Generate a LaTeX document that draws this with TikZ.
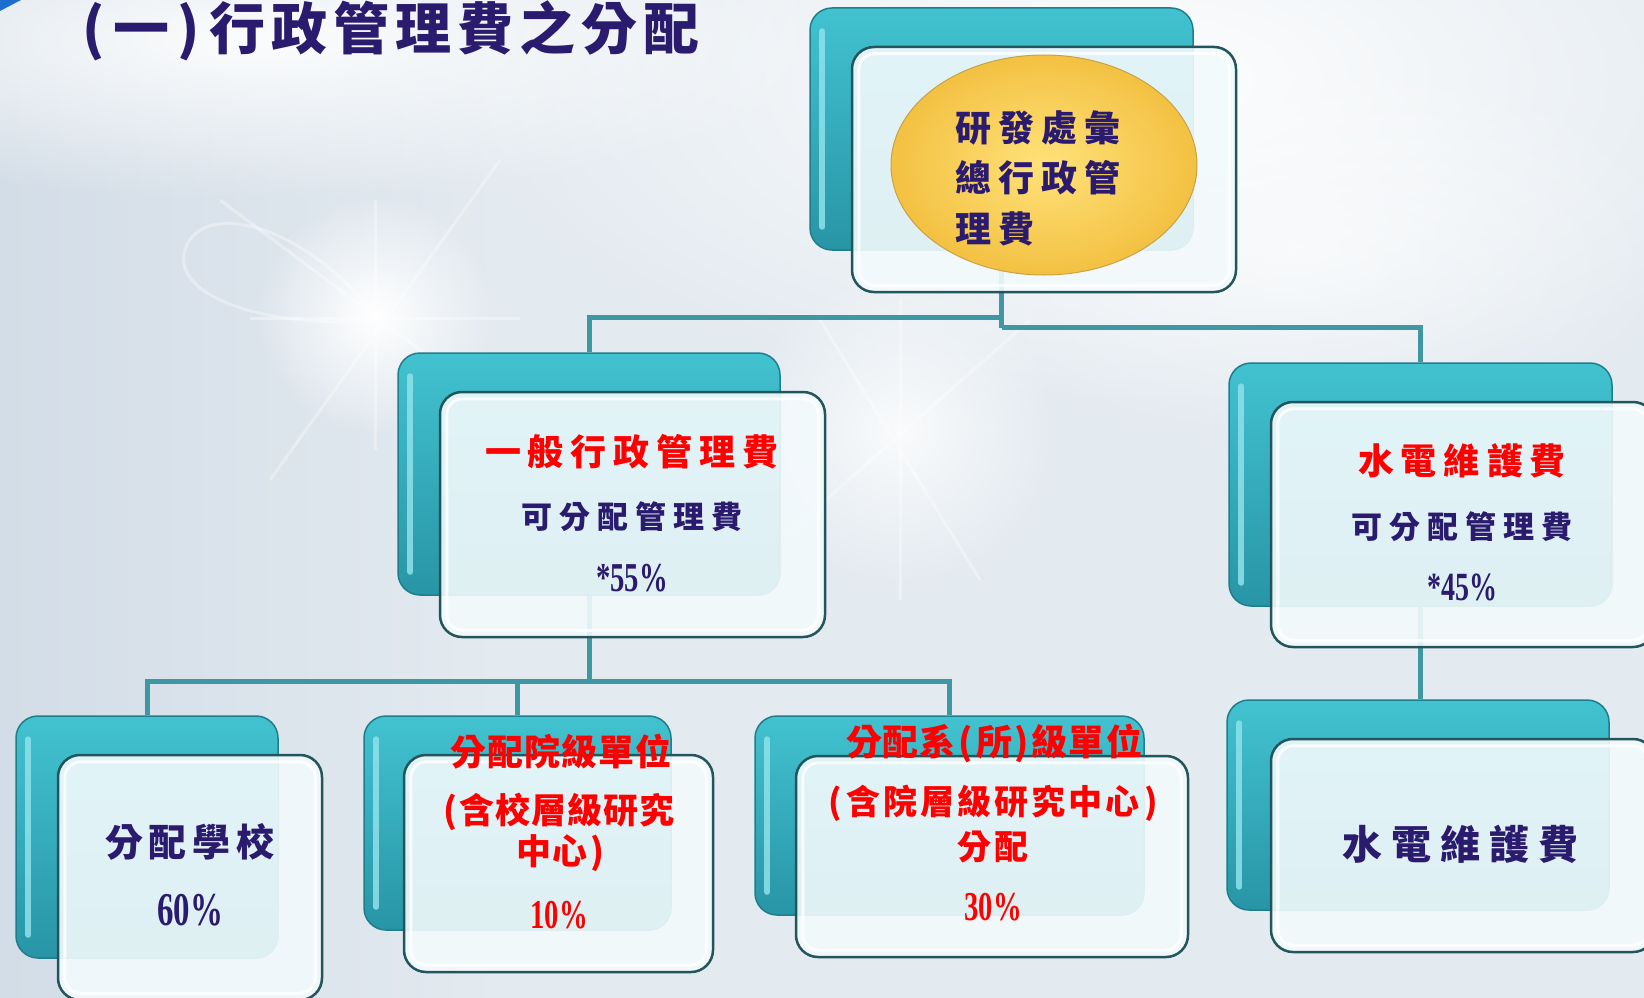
\documentclass[tikz,border=0pt]{standalone}
\usepackage{fontspec}
\newfontfamily\cjk{Noto Sans CJK TC}
\newfontfamily\num{Liberation Serif}[FakeStretch=0.7]
\usetikzlibrary{shapes.geometric,fit,calc,fadings}
\definecolor{bgcol}{HTML}{E3EAF0}
\definecolor{bgleft}{HTML}{D3DDE7}
\definecolor{tealtop}{HTML}{42C2D0}
\definecolor{tealbot}{HTML}{2895A6}
\definecolor{tealdark}{HTML}{1F7E8B}
\definecolor{hilitecol}{HTML}{8FE1EB}
\definecolor{conncol}{HTML}{3F97A3}
\definecolor{frontedge}{HTML}{23555C}
\definecolor{frontfill}{HTML}{F3FAFC}
\definecolor{navy}{HTML}{2B1B6E}
\definecolor{redtxt}{HTML}{FF0000}
\definecolor{goldin}{HTML}{FFE27A}
\definecolor{goldout}{HTML}{F3C142}
\definecolor{goldedge}{HTML}{C9A244}
\definecolor{cornerblue}{HTML}{1E6ED2}
\pgfdeclarelayer{bgl}
\pgfdeclarelayer{cnl}
\pgfsetlayers{bgl,cnl,main}
\tikzfading[name=glow, inner color=transparent!0, outer color=transparent!100]
\newcommand\fs[1]{\fontsize{#1}{#1}\selectfont}
\newcommand\lp{\makebox[0.5em]{(}}
\newcommand\rp{\makebox[0.5em]{)}}
\def\spx#1#2{\def\spgap{\hspace{#1}}\spfirst#2\relax}
\def\spfirst#1{#1\spnext}
\def\spnext#1{\ifx\relax#1\else\spgap#1\expandafter\spnext\fi}
\tikzset{
  backbox/.style={rectangle, rounded corners=22pt, draw=tealdark, line width=1.5pt,
    top color=tealtop, bottom color=tealbot, inner sep=0pt},
  frontbox/.style={rectangle, rounded corners=22pt, draw=frontedge, line width=2.5pt,
    fill=frontfill, fill opacity=0.9, inner sep=0pt},
  hilite/.style={draw=hilitecol, line width=6pt, line cap=round, opacity=0.85},
  innerline/.style={draw=white, line width=3pt, rounded corners=16pt, opacity=0.8},
  conn/.style={draw=conncol, line width=5pt},
  navytext/.style={text=navy, inner sep=0pt, font=\cjk\bfseries},
  redtext/.style={text=redtxt, inner sep=0pt, font=\cjk\bfseries},
  navynum/.style={text=navy, inner sep=0pt, font=\num\bfseries},
  rednum/.style={text=redtxt, inner sep=0pt, font=\num\bfseries},
}
\newcommand\pairbox[9]{%
  \node[backbox, fit={(#2,#3)(#4,#5)}] (#1B) {};
  \draw[hilite] ($(#1B.north west)+(13,24)$) -- ($(#1B.south west)+(13,-24)$);
  \node[frontbox, fit={(#6,#7)(#8,#9)}] (#1F) {};
  \draw[innerline] ($(#1F.north west)+(8,8)$) rectangle ($(#1F.south east)+(-8,-8)$);
}
\begin{document}
\begin{tikzpicture}[x=1pt,y=-1pt]
\useasboundingbox (0,0) rectangle (1644,998);
\begin{pgfonlayer}{bgl}
  \clip (0,0) rectangle (1644,998);
  \fill[bgcol] (0,0) rectangle (1644,998);
  \shade[left color=bgleft, right color=bgcol] (0,0) rectangle (500,998);
  \fill[white, path fading=glow, opacity=0.95] (1150,80) ellipse (700 and 330);
  \fill[white, path fading=glow, opacity=0.9] (250,40) ellipse (600 and 160);
  \fill[white, path fading=glow] (375,315) circle (120);
  \fill[white, path fading=glow, opacity=0.8] (900,430) circle (160);
  \fill[white, path fading=glow, opacity=0.6] (1300,250) ellipse (400 and 200);
  \begin{scope}[white, line width=3pt, opacity=0.35]
    \draw (220,200) -- (540,440);
    \draw (270,480) -- (500,160);
    \draw (375,200) -- (375,450);
    \draw (250,318) -- (520,318);
    \draw (380,320) .. controls (280,330) and (170,300) .. (185,250) .. controls (200,200) and (300,220) .. (375,315);
    \draw (820,320) -- (980,580);
    \draw (780,540) -- (1030,320);
    \draw (900,300) -- (900,600);
  \end{scope}
  \fill[cornerblue] (0,0) -- (21,0) -- (0,11) -- cycle;
\end{pgfonlayer}

% boxes
\pairbox{top}{810}{8}{1193}{250}{852}{47}{1236}{292}
\pairbox{ml}{398}{353}{780}{595}{440}{392}{825}{637}
\pairbox{mr}{1229}{363}{1612}{606}{1271}{402}{1655}{647}
\pairbox{a}{16}{716}{278}{958}{58}{755}{322}{1000}
\pairbox{b}{364}{716}{671}{930}{404}{755}{713}{972}
\pairbox{c}{755}{716}{1144}{915}{796}{756}{1188}{957}
\pairbox{d}{1227}{700}{1609}{910}{1271}{739}{1655}{952}

% connectors
\begin{pgfonlayer}{cnl}
  \coordinate (jL) at ($(topB.south)+(0,67)$);
  \coordinate (jR) at ($(topB.south)+(0,77)$);
  \draw[conn] (topB.south) -- (jR);
  \draw[conn] (jL) -| (mlB.north);
  \draw[conn] (jR) -| (mrB.north);
  \coordinate (jB) at ($(mlB.south)+(0,86)$);
  \draw[conn] (mlB.south) -- (jB);
  \draw[conn] (aB.north) |- (jB) -| (cB.north);
  \draw[conn] (jB) -| (bB.north);
  \draw[conn] (mrB.south) -- (mrB.south |- dB.north);
\end{pgfonlayer}

% title
\node[navytext, anchor=base west] (title) at (79,49) {\fs{56}\spx{6pt}{\lp 一\rp 行政管理費之分配}};

% top ellipse
\node[ellipse, draw=goldedge, line width=1pt, inner color=goldin, outer color=goldout,
  minimum width=306pt, minimum height=220pt] (topE) at (1044,165) {};
\node[navytext, anchor=west] (t1) at (955,128) {\fs{36}\spx{7pt}{研發處彙}};
\node[navytext, anchor=west] (t2) at (955,178) {\fs{36}\spx{7pt}{總行政管}};
\node[navytext, anchor=west] (t3) at (955,229) {\fs{36}\spx{7pt}{理費}};

% middle left
\node[redtext] (ml1) at (632,452) {\fs{36}\spx{7pt}{一般行政管理費}};
\node[navytext] (ml2) at (632,517) {\fs{31}\spx{7pt}{可分配管理費}};
\node[navynum] (ml3) at (632,578) {\fs{41}*55\%};

% middle right
\node[redtext] (mr1) at (1462,461) {\fs{36}\spx{7pt}{水電維護費}};
\node[navytext] (mr2) at (1462,527) {\fs{31}\spx{7pt}{可分配管理費}};
\node[navynum] (mr3) at (1462,587) {\fs{40}*45\%};

% bottom A
\node[navytext] (a1) at (190,842) {\fs{38}\spx{6pt}{分配學校}};
\node[navynum] (a2) at (190,910) {\fs{47}60\%};

% bottom B
\node[redtext] (b1) at (561,752) {\fs{36}\spx{1pt}{分配院級單位}};
\node[redtext] (b2) at (558,812) {\fs{35}\spx{1pt}{\lp 含校層級研究}};
\node[redtext] (b3) at (561,853) {\fs{35}\spx{1pt}{中心\rp}};
\node[rednum] (b4) at (559,915) {\fs{41}10\%};

% bottom C
\node[redtext] (c1) at (994,743) {\fs{36}\spx{1pt}{分配系\lp 所\rp 級單位}};
\node[redtext] (c2) at (993,803) {\fs{34}\spx{3pt}{\lp 含院層級研究中心\rp}};
\node[redtext] (c3) at (993,847) {\fs{34}\spx{3pt}{分配}};
\node[rednum] (c4) at (993,907) {\fs{41}30\%};

% bottom D
\node[navytext] (d1) at (1460,844) {\fs{40}\spx{9pt}{水電維護費}};
\end{tikzpicture}
\end{document}
